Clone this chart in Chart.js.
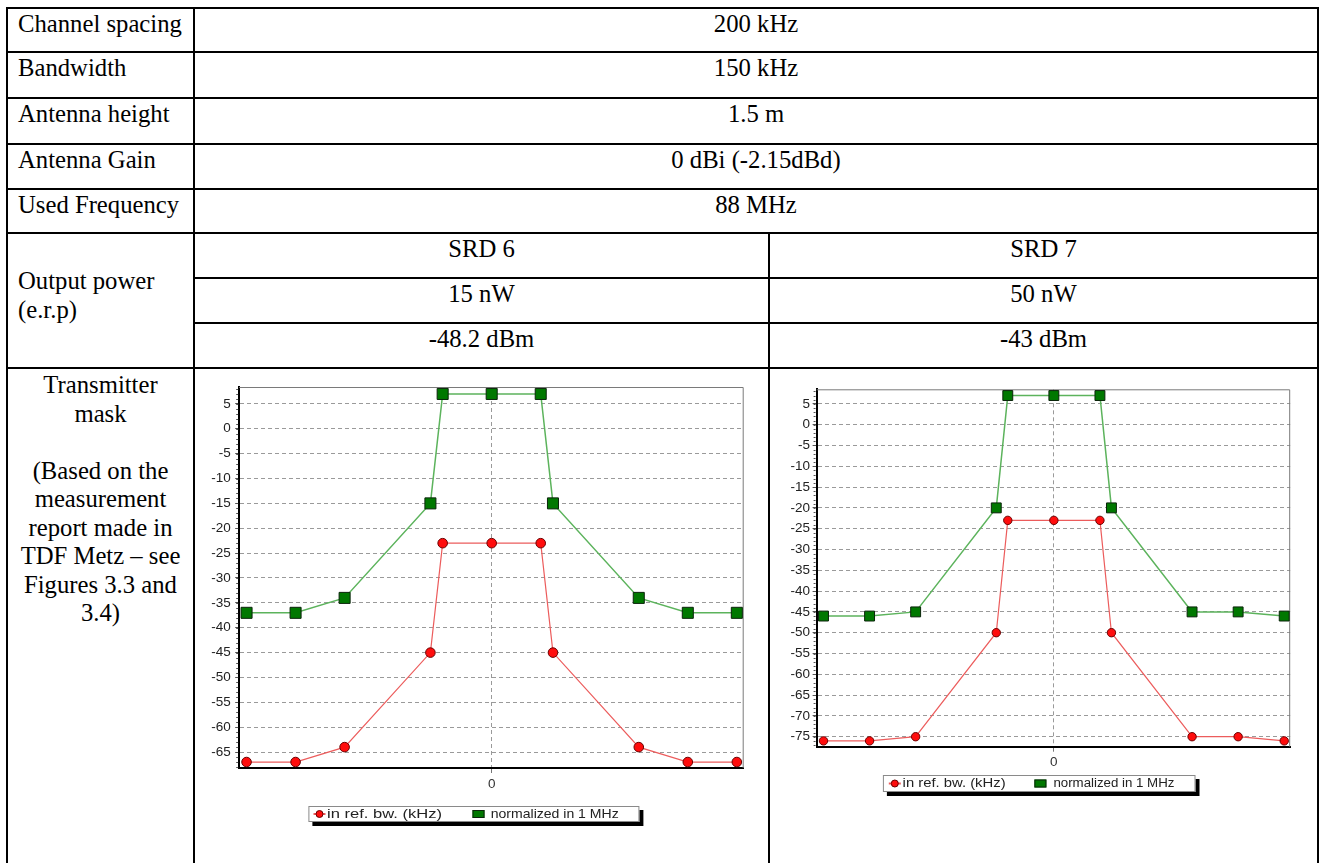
<!DOCTYPE html>
<html>
<head>
<meta charset="utf-8">
<script src="https://cdn.jsdelivr.net/npm/chart.js@4.4.1/dist/chart.umd.min.js"></script>
<style>
    body {
        margin: 0;
        width: 1321px;
        height: 863px;
        overflow: hidden;
        position: relative;
        background: #fff;
        font-family: "Liberation Serif", "Times New Roman", serif;
        font-size: 24.7px;
        color: #000;
    }
    .h { position: absolute; height: 2px; background: #000; }
    .v { position: absolute; width: 2px; background: #000; }
    .t { position: absolute; line-height: 28.5px; white-space: nowrap; }
    .c { text-align: center; }
    canvas { position: absolute; }
</style>
</head>
<body>

<!-- table grid -->
<div class="h" style="left:6px; top:6.5px; width:1313px"></div>
<div class="h" style="left:6px; top:51px; width:1313px"></div>
<div class="h" style="left:6px; top:96.7px; width:1313px"></div>
<div class="h" style="left:6px; top:143px; width:1313px"></div>
<div class="h" style="left:6px; top:188px; width:1313px"></div>
<div class="h" style="left:6px; top:232.3px; width:1313px"></div>
<div class="h" style="left:193px; top:277.3px; width:1126px"></div>
<div class="h" style="left:193px; top:322.3px; width:1126px"></div>
<div class="h" style="left:6px; top:367.3px; width:1313px"></div>
<div class="v" style="left:6px; top:6.5px; height:857px"></div>
<div class="v" style="left:193px; top:6.5px; height:857px"></div>
<div class="v" style="left:768px; top:232.3px; height:631px"></div>
<div class="v" style="left:1317px; top:6.5px; height:857px"></div>

<!-- table text -->
<div class="t" style="left:18px; top:10.1px">Channel spacing</div>
<div class="t c" style="left:195px; width:1122px; top:10.1px">200 kHz</div>
<div class="t" style="left:18px; top:54.1px">Bandwidth</div>
<div class="t c" style="left:195px; width:1122px; top:54.1px">150 kHz</div>
<div class="t" style="left:18px; top:99.8px">Antenna height</div>
<div class="t c" style="left:195px; width:1122px; top:99.8px">1.5 m</div>
<div class="t" style="left:18px; top:146.1px">Antenna Gain</div>
<div class="t c" style="left:195px; width:1122px; top:146.1px">0 dBi (-2.15dBd)</div>
<div class="t" style="left:18px; top:191.1px">Used Frequency</div>
<div class="t c" style="left:195px; width:1122px; top:191.1px">88 MHz</div>

<div class="t" style="left:18px; top:267.4px">Output power<br>(e.r.p)</div>
<div class="t c" style="left:195px; width:573px; top:235.4px">SRD 6</div>
<div class="t c" style="left:770px; width:547px; top:235.4px">SRD 7</div>
<div class="t c" style="left:195px; width:573px; top:280.4px">15 nW</div>
<div class="t c" style="left:770px; width:547px; top:280.4px">50 nW</div>
<div class="t c" style="left:195px; width:573px; top:325.4px">-48.2 dBm</div>
<div class="t c" style="left:770px; width:547px; top:325.4px">-43 dBm</div>

<div class="t c" style="left:8px; width:185px; top:371.4px">Transmitter<br>mask<br><br>(Based on the<br>measurement<br>report made in<br>TDF Metz &ndash; see<br>Figures 3.3 and<br>3.4)</div>

<canvas id="srd6Chart" width="572" height="460" style="left:196px; top:372px"></canvas>
<canvas id="srd7Chart" width="545" height="440" style="left:771px; top:372px"></canvas>

<script>
// frequency offset of each mask point (kHz from the carrier)
const freqOffsets = [-500, -400, -300, -125, -100, 0, 100, 125, 300, 400, 500];
const xTickValues = [0];
const seriesLabels = ["in ref. bw. (kHz)", "normalized in 1 MHz"];

// SRD 6 mask (dB)
const srd6InRefBw = [-67, -67, -64, -45, -23, -23, -23, -45, -64, -67, -67];
const srd6Normalized = [-37, -37, -34, -15, 7, 7, 7, -15, -34, -37, -37];
const srd6YTicks = [5, 0, -5, -10, -15, -20, -25, -30, -35, -40, -45, -50, -55, -60, -65];

// SRD 7 mask (dB)
const srd7InRefBw = [-76, -76, -75, -50, -23, -23, -23, -50, -75, -75, -76];
const srd7Normalized = [-46, -46, -45, -20, 7, 7, 7, -20, -45, -45, -46];
const srd7YTicks = [5, 0, -5, -10, -15, -20, -25, -30, -35, -40, -45, -50, -55, -60, -65, -70, -75];

Chart.defaults.font.family = "'Liberation Sans', Arial, sans-serif";

// grey top/right frame + small minor ticks on the value axis
const plotFramePlugin = {
    id: "plotFrame",
    beforeDatasetsDraw(chart) {
        const { ctx, chartArea: a } = chart;
        const y = chart.scales.y;
        ctx.save();
        ctx.strokeStyle = "#7a7a7a";
        ctx.lineWidth = 1;
        ctx.beginPath();
        ctx.moveTo(a.left, a.top + 0.5);
        ctx.lineTo(a.right - 0.5, a.top + 0.5);
        ctx.lineTo(a.right - 0.5, a.bottom);
        ctx.stroke();

        ctx.strokeStyle = "#555";
        ctx.beginPath();
        for (let v = Math.ceil(y.min); v <= y.max; v++) {
            const py = Math.round(y.getPixelForValue(v)) + 0.5;
            ctx.moveTo(a.left - 3, py);
            ctx.lineTo(a.left - 1, py);
        }
        ctx.stroke();
        ctx.restore();
    },
};

// boxed legend with a black drop shadow
const boxLegendPlugin = {
    id: "boxLegend",
    afterDraw(chart, args, opts) {
        const { ctx } = chart;
        const { x, y, w, h, font, marks } = opts;
        ctx.save();
        ctx.fillStyle = "#000";
        ctx.fillRect(x + 4, y + 4, w, h);
        ctx.fillStyle = "#fff";
        ctx.fillRect(x, y, w, h);
        ctx.strokeStyle = "#8a8a8a";
        ctx.lineWidth = 1;
        ctx.strokeRect(x + 0.5, y + 0.5, w - 1, h - 1);

        const cy = y + h / 2;
        chart.data.datasets.forEach((ds, i) => {
            const m = marks[i];
            if (ds.pointStyle === "circle") {
                ctx.strokeStyle = ds.borderColor;
                ctx.lineWidth = 2;
                ctx.beginPath();
                ctx.moveTo(m.x - 6, cy);
                ctx.lineTo(m.x + 6, cy);
                ctx.stroke();
                ctx.beginPath();
                ctx.arc(m.x, cy, 3.5, 0, Math.PI * 2);
                ctx.fillStyle = ds.pointBackgroundColor;
                ctx.fill();
                ctx.lineWidth = 1;
                ctx.strokeStyle = ds.pointBorderColor;
                ctx.stroke();
            } else {
                ctx.fillStyle = ds.pointBackgroundColor;
                ctx.fillRect(m.x - 6, cy - 4, 12, 8);
                ctx.strokeStyle = ds.pointBorderColor;
                ctx.lineWidth = 1;
                ctx.strokeRect(m.x - 5.5, cy - 3.5, 11, 7);
            }
            // the original legend text is a little wider than Arial, stretch it
            ctx.fillStyle = "#222";
            ctx.font = font;
            ctx.textBaseline = "middle";
            const natural = ctx.measureText(ds.label).width;
            ctx.save();
            ctx.translate(m.tx, cy + 0.5);
            ctx.scale(m.tw / natural, 1);
            ctx.fillText(ds.label, 0, 0);
            ctx.restore();
        });
        ctx.restore();
    },
};

function buildDatasets(inRef, normalized, cfg) {
    return [
        {
            label: seriesLabels[0],
            data: freqOffsets.map((f, i) => ({ x: f, y: inRef[i] })),
            borderColor: "#ec5c5c",
            borderWidth: 1.2,
            pointStyle: "circle",
            pointRadius: cfg.dotRadius,
            pointBackgroundColor: "#ff0d0d",
            pointBorderColor: "#6a0000",
            pointBorderWidth: 1,
            tension: 0,
            clip: false,
        },
        {
            label: seriesLabels[1],
            data: freqOffsets.map((f, i) => ({ x: f, y: normalized[i] })),
            borderColor: "#5cb35c",
            borderWidth: 1.5,
            pointStyle: "rect",
            pointRadius: cfg.squareRadius,
            pointBackgroundColor: "#007800",
            pointBorderColor: "#0a240a",
            pointBorderWidth: 1,
            tension: 0,
            clip: false,
        },
    ];
}

function createMaskChart(canvasId, inRef, normalized, yTicks, cfg) {
    const ctx = document.getElementById(canvasId).getContext("2d");

    return new Chart(ctx, {
        type: "line",
        data: { datasets: buildDatasets(inRef, normalized, cfg) },
        options: {
            responsive: false,
            animation: false,
            layout: { autoPadding: false, padding: cfg.padding },
            plugins: {
                legend: { display: false },
                tooltip: { enabled: false },
                boxLegend: cfg.legend,
            },
            scales: {
                x: {
                    type: "linear",
                    min: cfg.xMin,
                    max: cfg.xMax,
                    afterFit: (axis) => { axis.height = 30; },
                    afterBuildTicks: (axis) => {
                        axis.ticks = xTickValues.map((v) => ({ value: v }));
                    },
                    ticks: { color: "#333", font: { size: 13.5 }, padding: cfg.xTickPad, maxRotation: 0 },
                    grid: { color: "#9a9a9a", tickColor: "#777", tickLength: 5 },
                    border: { color: "#000", width: 2, dash: [4, 3] },
                },
                y: {
                    type: "linear",
                    min: cfg.yMin,
                    max: cfg.yMax,
                    afterFit: (axis) => { axis.width = cfg.axisWidth; },
                    afterBuildTicks: (axis) => {
                        axis.ticks = yTicks.map((v) => ({ value: v }));
                    },
                    ticks: { color: "#222", font: { size: 13.5 }, padding: cfg.yTickPad },
                    grid: { color: "#9a9a9a", tickColor: "#555", tickLength: 4 },
                    border: { color: "#000", width: 2, dash: [4, 3] },
                },
            },
        },
        plugins: [plotFramePlugin, boxLegendPlugin],
    });
}

createMaskChart("srd6Chart", srd6InRefBw, srd6Normalized, srd6YTicks, {
    xMin: -515, xMax: 514,
    yMin: -68.2, yMax: 8.4,
    axisWidth: 43,
    padding: { left: 0.2, right: 24.3, top: 15, bottom: 34 },
    yTickPad: 4.5, xTickPad: 3,
    dotRadius: 4.8, squareRadius: 7.8,
    legend: {
        x: 112.4, y: 434, w: 331, h: 16, font: "13px 'Liberation Sans', Arial, sans-serif",
        marks: [{ x: 123.5, tx: 131, tw: 115 }, { x: 282.5, tx: 294.7, tw: 128 }],
    },
});

createMaskChart("srd7Chart", srd7InRefBw, srd7Normalized, srd7YTicks, {
    xMin: -515, xMax: 513,
    yMin: -77.4, yMax: 8.5,
    axisWidth: 45.6,
    padding: { left: 0, right: 25.8, top: 17.3, bottom: 35.3 },
    yTickPad: 2.6, xTickPad: 2.5,
    dotRadius: 4.2, squareRadius: 7,
    legend: {
        x: 111.9, y: 403, w: 312.6, h: 17, font: "12.5px 'Liberation Sans', Arial, sans-serif",
        marks: [{ x: 123.8, tx: 131.6, tw: 103 }, { x: 269.4, tx: 282.4, tw: 121 }],
    },
});
</script>
</body>
</html>
